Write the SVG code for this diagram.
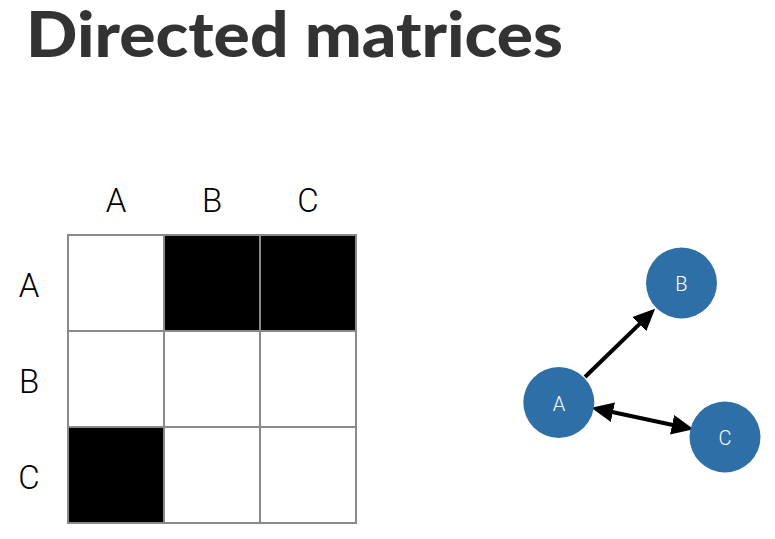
<svg xmlns="http://www.w3.org/2000/svg" width="775" height="539" viewBox="0 0 775 539">
<style>
.title{font-family:Lato,"Source Sans Pro","Noto Sans",sans-serif;font-weight:900;font-size:63px;fill:#333333}
.lbl{font-family:Roboto,"Liberation Sans",sans-serif;font-weight:300;font-size:33px;fill:#000000;text-anchor:middle}
.cell{stroke:#8a8a8a;stroke-width:2}
.w{fill:#ffffff}
.b{fill:#000000}
.node{fill:#2f6fa8}
.nlbl{font-family:Roboto,"Liberation Sans",sans-serif;font-weight:300;font-size:20px;fill:#ffffff;text-anchor:middle}
.edge{stroke:#000000;stroke-width:4;fill:none}
</style>
<defs>
<marker id="ah" markerUnits="userSpaceOnUse" markerWidth="22" markerHeight="20" viewBox="0 0 20 18" refX="4" refY="9" orient="auto-start-reverse">
<path d="M0,0 L20,9 L0,18 z" fill="#000000"/>
</marker>
</defs>
<rect width="775" height="539" fill="#ffffff"/>
<text class="title" x="26" y="57" textLength="537" lengthAdjust="spacingAndGlyphs">Directed matrices</text>
<g id="matrix">
<text class="lbl" x="116" y="212">A</text>
<text class="lbl" x="212" y="212">B</text>
<text class="lbl" x="308" y="212">C</text>
<text class="lbl" x="29" y="297">A</text>
<text class="lbl" x="29" y="393">B</text>
<text class="lbl" x="29" y="489">C</text>
<rect class="cell w" x="68" y="235" width="96" height="96"/>
<rect class="cell b" x="164" y="235" width="96" height="96"/>
<rect class="cell b" x="260" y="235" width="96" height="96"/>
<rect class="cell w" x="68" y="331" width="96" height="96"/>
<rect class="cell w" x="164" y="331" width="96" height="96"/>
<rect class="cell w" x="260" y="331" width="96" height="96"/>
<rect class="cell b" x="68" y="427" width="96" height="96"/>
<rect class="cell w" x="164" y="427" width="96" height="96"/>
<rect class="cell w" x="260" y="427" width="96" height="96"/>
</g>
<g id="connectors">
<line class="edge" x1="585" y1="377" x2="642.5" y2="321.1" marker-end="url(#ah)"/>
<line class="edge" x1="608.6" y1="411.3" x2="676.4" y2="425.7" marker-start="url(#ah)" marker-end="url(#ah)"/>
</g>
<g id="node-A">
<circle class="node" cx="558.8" cy="402.5" r="35.5"/>
<text class="nlbl" x="559" y="410.5">A</text>
</g>
<g id="node-B">
<circle class="node" cx="681.5" cy="283" r="35.5"/>
<text class="nlbl" x="681.5" y="291">B</text>
</g>
<g id="node-C">
<circle class="node" cx="725" cy="437" r="35.5"/>
<text class="nlbl" x="725" y="445">C</text>
</g>
</svg>
